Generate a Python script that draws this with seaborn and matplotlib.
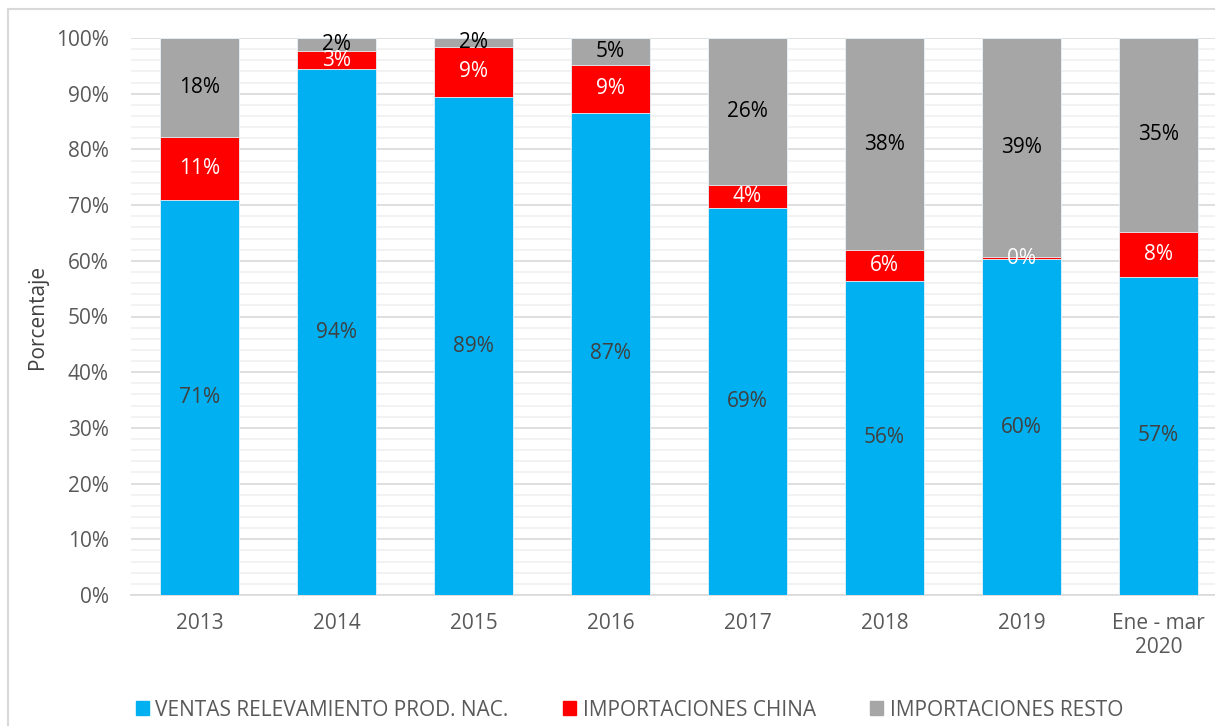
import numpy as np
import pandas as pd
import seaborn as sns
import matplotlib.pyplot as plt
from matplotlib.ticker import MultipleLocator, PercentFormatter
from matplotlib.patches import Rectangle

years = ['2013', '2014', '2015', '2016', '2017', '2018', '2019', 'Ene - mar\n2020']
ventas = [70.9, 94.4, 89.4, 86.6, 69.4, 56.4, 60.3, 57.1]
china = [11.3, 3.2, 9.0, 8.6, 4.2, 5.5, 0.4, 8.1]
resto = [17.8, 2.4, 1.6, 4.8, 26.4, 38.1, 39.3, 34.8]
series_names = ['VENTAS RELEVAMIENTO PROD. NAC.', 'IMPORTACIONES CHINA', 'IMPORTACIONES RESTO']
colors = ['#00b0f0', '#ff0000', '#a6a6a6']
label_colors = ['#404040', 'white', 'black']

sns.set_theme(style='white')
plt.rcParams['font.family'] = ['Open Sans', 'DejaVu Sans']

df = pd.DataFrame({'year': years, 'ventas': ventas, 'china': china, 'resto': resto})
df['c1'] = df['ventas']
df['c2'] = df['ventas'] + df['china']
df['c3'] = df['c2'] + df['resto']

fig = plt.figure(figsize=(12.15, 7.26), dpi=100)
# plot area runs past the right edge like the original
ax = fig.add_axes([131 / 1215, 1 - 595 / 726, 1096 / 1215, (595 - 38) / 726])

# draw back to front: cumulative totals
for col, c in zip(['c3', 'c2', 'c1'], colors[::-1]):
    sns.barplot(data=df, x='year', y=col, color=c, width=0.57, ax=ax,
                saturation=1, edgecolor='#e8f4fa', linewidth=0.6, zorder=3)

ax.set_ylim(0, 100)
ax.set_xlim(-0.5, len(years) - 0.5)
ax.yaxis.set_major_locator(MultipleLocator(10))
ax.yaxis.set_minor_locator(MultipleLocator(2))
ax.yaxis.set_major_formatter(PercentFormatter(decimals=0))
ax.grid(axis='y', which='major', color='#d9d9d9', linewidth=1.2, zorder=0)
ax.grid(axis='y', which='minor', color='#f0f0f0', linewidth=1.2, zorder=0)
ax.set_axisbelow(True)
for s in ['top', 'right', 'left']:
    ax.spines[s].set_visible(False)
ax.spines['bottom'].set_color('#d9d9d9')
ax.spines['bottom'].set_linewidth(1.2)
ax.tick_params(axis='both', which='both', length=0, labelsize=15, colors='#595959')
ax.tick_params(axis='y', pad=16)
ax.tick_params(axis='x', pad=13)
ax.set_xlabel('')
ax.set_ylabel('Porcentaje', fontsize=15, color='#404040', labelpad=6)

# segment labels
bottoms = np.zeros(len(years))
for vals, lc in zip([ventas, china, resto], label_colors):
    for i, v in enumerate(vals):
        ax.text(i, bottoms[i] + v / 2, f'{round(v):.0f}%', ha='center', va='center',
                fontsize=15, color=lc, zorder=5)
    bottoms += np.array(vals)

handles = [Rectangle((0, 0), 1, 1, color=c) for c in colors]
fig.legend(handles, series_names, loc='center', bbox_to_anchor=(0.518, 0.022), ncol=3,
           frameon=False, fontsize=15, labelcolor='#595959', handlelength=0.65,
           handleheight=0.65, handletextpad=0.3, columnspacing=2.6)

fig.add_artist(Rectangle((8 / 1215, -0.05), 1.1, 1.05 - 9 / 726, transform=fig.transFigure,
                         fill=False, edgecolor='#d9d9d9', linewidth=1.5))

fig.savefig('out.png', dpi=100)
